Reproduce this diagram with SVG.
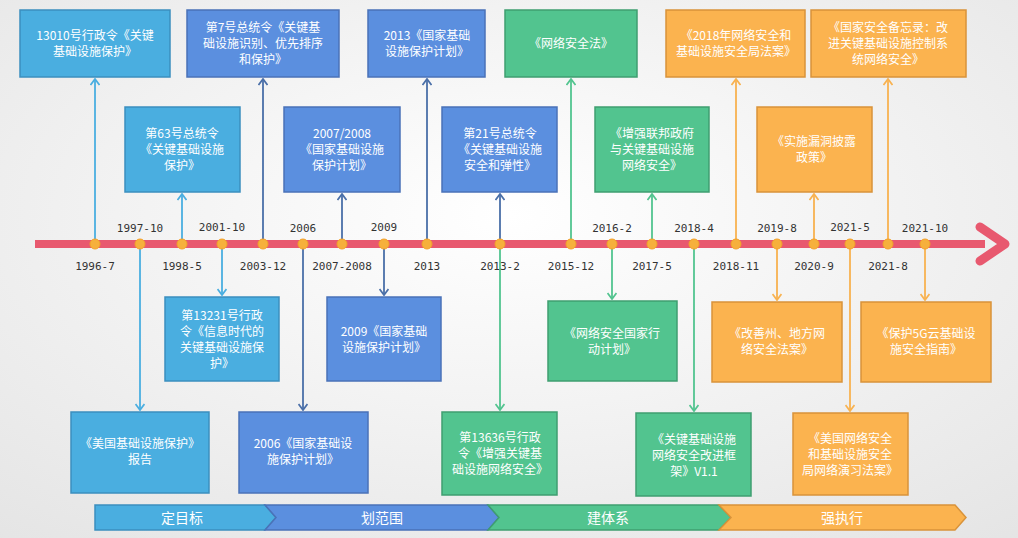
<svg xmlns="http://www.w3.org/2000/svg" width="1018" height="538" viewBox="0 0 1018 538">
<defs>
<radialGradient id="bg" cx="0.5" cy="0.4" r="0.8"><stop offset="0" stop-color="#ffffff"/><stop offset="1" stop-color="#e4e4e4"/></radialGradient>
<marker id="aL" markerWidth="10" markerHeight="10" refX="9" refY="5" orient="auto" markerUnits="userSpaceOnUse" viewBox="0 0 10 10"><path d="M3,0.5 L9,5 L3,9.5" fill="none" stroke="#4aaee0" stroke-width="1.8"/></marker>
<marker id="aB" markerWidth="10" markerHeight="10" refX="9" refY="5" orient="auto" markerUnits="userSpaceOnUse" viewBox="0 0 10 10"><path d="M3,0.5 L9,5 L3,9.5" fill="none" stroke="#4a6fa8" stroke-width="1.8"/></marker>
<marker id="aG" markerWidth="10" markerHeight="10" refX="9" refY="5" orient="auto" markerUnits="userSpaceOnUse" viewBox="0 0 10 10"><path d="M3,0.5 L9,5 L3,9.5" fill="none" stroke="#52c48f" stroke-width="1.8"/></marker>
<marker id="aO" markerWidth="10" markerHeight="10" refX="9" refY="5" orient="auto" markerUnits="userSpaceOnUse" viewBox="0 0 10 10"><path d="M3,0.5 L9,5 L3,9.5" fill="none" stroke="#f8b250" stroke-width="1.8"/></marker>
</defs>
<style>
text{font-family:"Noto Sans CJK SC","Liberation Sans",sans-serif;font-size:12px;fill:#fff;text-anchor:middle}
.lb{fill:#4aaee0;stroke:#3b8fbf;stroke-width:1.5}
.bl{fill:#5b8fdf;stroke:#4a72b8;stroke-width:1.5}
.gr{fill:#52c48f;stroke:#3f9e70;stroke-width:1.5}
.or{fill:#fbb34f;stroke:#d9933a;stroke-width:1.5}
.d{font-family:"DejaVu Sans Mono","Liberation Mono",monospace;font-size:11px;fill:#333}
.cL{stroke:#4aaee0;stroke-width:1.8;fill:none}
.cB{stroke:#4a6fa8;stroke-width:1.8;fill:none}
.cG{stroke:#52c48f;stroke-width:1.8;fill:none}
.cO{stroke:#f8b250;stroke-width:1.8;fill:none}
.dot{fill:#f6b03c;stroke:#f3a12a;stroke-width:1}
.ph{font-size:14px}
</style>
<rect width="1018" height="538" fill="url(#bg)"/>
<g id="connectors">
<line class="cL" x1="95" y1="244" x2="95" y2="79" marker-end="url(#aL)"/>
<line class="cB" x1="263" y1="244" x2="263" y2="79" marker-end="url(#aB)"/>
<line class="cB" x1="427" y1="244" x2="427" y2="79" marker-end="url(#aB)"/>
<line class="cG" x1="571" y1="244" x2="571" y2="79" marker-end="url(#aG)"/>
<line class="cO" x1="736" y1="244" x2="736" y2="79" marker-end="url(#aO)"/>
<line class="cO" x1="888" y1="244" x2="888" y2="79" marker-end="url(#aO)"/>
<line class="cL" x1="182" y1="244" x2="182" y2="194" marker-end="url(#aL)"/>
<line class="cB" x1="342" y1="244" x2="342" y2="194" marker-end="url(#aB)"/>
<line class="cB" x1="500" y1="244" x2="500" y2="194" marker-end="url(#aB)"/>
<line class="cG" x1="652" y1="244" x2="652" y2="194" marker-end="url(#aG)"/>
<line class="cO" x1="814" y1="244" x2="814" y2="194" marker-end="url(#aO)"/>
<line class="cL" x1="222" y1="244" x2="222" y2="295" marker-end="url(#aL)"/>
<line class="cB" x1="384" y1="244" x2="384" y2="295" marker-end="url(#aB)"/>
<line class="cG" x1="612" y1="244" x2="612" y2="299" marker-end="url(#aG)"/>
<line class="cO" x1="777" y1="244" x2="777" y2="300" marker-end="url(#aO)"/>
<line class="cO" x1="925" y1="244" x2="925" y2="300" marker-end="url(#aO)"/>
<line class="cL" x1="140" y1="244" x2="140" y2="410" marker-end="url(#aL)"/>
<line class="cB" x1="303" y1="244" x2="303" y2="410" marker-end="url(#aB)"/>
<line class="cG" x1="500" y1="244" x2="500" y2="410" marker-end="url(#aG)"/>
<line class="cG" x1="694" y1="244" x2="694" y2="411" marker-end="url(#aG)"/>
<line class="cO" x1="850" y1="244" x2="850" y2="411" marker-end="url(#aO)"/>
</g>
<g id="axis">
<rect x="35" y="240" width="950" height="8" fill="#e8596f"/>
<path d="M980,227 L1005,244 L980,261" fill="none" stroke="#e8596f" stroke-width="9" stroke-linejoin="round" stroke-linecap="round"/>
<g class="dots">
<circle class="dot" cx="95" cy="244" r="5"/><circle class="dot" cx="140" cy="244" r="5"/><circle class="dot" cx="182" cy="244" r="5"/><circle class="dot" cx="222" cy="244" r="5"/><circle class="dot" cx="263" cy="244" r="5"/><circle class="dot" cx="303" cy="244" r="5"/><circle class="dot" cx="342" cy="244" r="5"/><circle class="dot" cx="384" cy="244" r="5"/><circle class="dot" cx="427" cy="244" r="5"/><circle class="dot" cx="500" cy="244" r="5"/><circle class="dot" cx="571" cy="244" r="5"/><circle class="dot" cx="612" cy="244" r="5"/><circle class="dot" cx="652" cy="244" r="5"/><circle class="dot" cx="694" cy="244" r="5"/><circle class="dot" cx="736" cy="244" r="5"/><circle class="dot" cx="777" cy="244" r="5"/><circle class="dot" cx="814" cy="244" r="5"/><circle class="dot" cx="850" cy="244" r="5"/><circle class="dot" cx="888" cy="244" r="5"/><circle class="dot" cx="925" cy="244" r="5"/>
</g>
<text class="d" x="140" y="232">1997-10</text><text class="d" x="222" y="231">2001-10</text><text class="d" x="303" y="232">2006</text><text class="d" x="384" y="231">2009</text><text class="d" x="612" y="232">2016-2</text><text class="d" x="694" y="232">2018-4</text><text class="d" x="777" y="232">2019-8</text><text class="d" x="850" y="231">2021-5</text><text class="d" x="925" y="232">2021-10</text>
<text class="d" x="95" y="270">1996-7</text><text class="d" x="182" y="270">1998-5</text><text class="d" x="263" y="270">2003-12</text><text class="d" x="342" y="270">2007-2008</text><text class="d" x="427" y="270">2013</text><text class="d" x="500" y="270">2013-2</text><text class="d" x="571" y="270">2015-12</text><text class="d" x="652" y="270">2017-5</text><text class="d" x="736" y="270">2018-11</text><text class="d" x="814" y="270">2020-9</text><text class="d" x="888" y="270">2021-8</text>
</g>
<g id="nA"><rect class="lb" x="20" y="10" width="150" height="67"/><text x="95" y="40">13010号行政令《关键</text><text x="95" y="56">基础设施保护》</text></g>
<g id="nB"><rect class="bl" x="187" y="10" width="152" height="67"/><text x="263" y="32">第7号总统令《关键基</text><text x="263" y="48">础设施识别、优先排序</text><text x="263" y="64">和保护》</text></g>
<g id="nC"><rect class="bl" x="368" y="10" width="117" height="67"/><text x="427" y="40">2013《国家基础</text><text x="427" y="56">设施保护计划》</text></g>
<g id="nD"><rect class="gr" x="505" y="10" width="132" height="67"/><text x="571" y="48">《网络安全法》</text></g>
<g id="nE"><rect class="or" x="666" y="10" width="139" height="67"/><text x="736" y="40">《2018年网络安全和</text><text x="736" y="56">基础设施安全局法案》</text></g>
<g id="nF"><rect class="or" x="811" y="10" width="155" height="67"/><text x="888" y="32">《国家安全备忘录：改</text><text x="888" y="48">进关键基础设施控制系</text><text x="888" y="64">统网络安全》</text></g>
<g id="nG"><rect class="lb" x="125" y="107" width="115" height="85"/><text x="182" y="138">第63号总统令</text><text x="182" y="154">《关键基础设施</text><text x="182" y="170">保护》</text></g>
<g id="nH"><rect class="bl" x="284" y="107" width="116" height="85"/><text x="342" y="138">2007/2008</text><text x="342" y="154">《国家基础设施</text><text x="342" y="170">保护计划》</text></g>
<g id="nI"><rect class="bl" x="442" y="107" width="115" height="85"/><text x="500" y="138">第21号总统令</text><text x="500" y="154">《关键基础设施</text><text x="500" y="170">安全和弹性》</text></g>
<g id="nJ"><rect class="gr" x="595" y="107" width="114" height="85"/><text x="652" y="138">《增强联邦政府</text><text x="652" y="154">与关键基础设施</text><text x="652" y="170">网络安全》</text></g>
<g id="nK"><rect class="or" x="757" y="107" width="115" height="85"/><text x="814" y="146">《实施漏洞披露</text><text x="814" y="162">政策》</text></g>
<g id="nL"><rect class="lb" x="165" y="297" width="114" height="84"/><text x="222" y="320">第13231号行政</text><text x="222" y="336">令《信息时代的</text><text x="222" y="352">关键基础设施保</text><text x="222" y="368">护》</text></g>
<g id="nM"><rect class="bl" x="327" y="297" width="114" height="84"/><text x="384" y="336">2009《国家基础</text><text x="384" y="352">设施保护计划》</text></g>
<g id="nN"><rect class="gr" x="548" y="301" width="129" height="80"/><text x="612" y="338">《网络安全国家行</text><text x="612" y="354">动计划》</text></g>
<g id="nO"><rect class="or" x="712" y="302" width="130" height="80"/><text x="777" y="338">《改善州、地方网</text><text x="777" y="354">络安全法案》</text></g>
<g id="nP"><rect class="or" x="861" y="302" width="130" height="80"/><text x="926" y="338">《保护5G云基础设</text><text x="926" y="354">施安全指南》</text></g>
<g id="nQ"><rect class="lb" x="71" y="412" width="138" height="81"/><text x="140" y="448">《美国基础设施保护》</text><text x="140" y="464">报告</text></g>
<g id="nR"><rect class="bl" x="239" y="412" width="129" height="81"/><text x="303" y="448">2006《国家基础设</text><text x="303" y="464">施保护计划》</text></g>
<g id="nS"><rect class="gr" x="442" y="412" width="115" height="83"/><text x="500" y="442">第13636号行政</text><text x="500" y="458">令《增强关键基</text><text x="500" y="474">础设施网络安全》</text></g>
<g id="nT"><rect class="gr" x="636" y="413" width="115" height="83"/><text x="694" y="444">《关键基础设施</text><text x="694" y="460">网络安全改进框</text><text x="694" y="476">架》V1.1</text></g>
<g id="nU"><rect class="or" x="793" y="413" width="115" height="82"/><text x="850" y="443">《美国网络安全</text><text x="850" y="459">和基础设施安全</text><text x="850" y="475">局网络演习法案》</text></g>
<g id="phases">
<path class="lb" d="M95,505 L265,505 L276,517.5 L265,530 L95,530 Z"/>
<path class="bl" d="M265,505 L488,505 L499,517.5 L488,530 L265,530 L276,517.5 Z"/>
<path class="gr" d="M488,505 L719,505 L731,517.5 L719,530 L488,530 L499,517.5 Z"/>
<path class="or" d="M719,505 L955,505 L966,517.5 L955,530 L719,530 L731,517.5 Z"/>
<text class="ph" x="182" y="523">定目标</text><text class="ph" x="382" y="523">划范围</text><text class="ph" x="608" y="523">建体系</text><text class="ph" x="842" y="523">强执行</text>
</g>
</svg>
